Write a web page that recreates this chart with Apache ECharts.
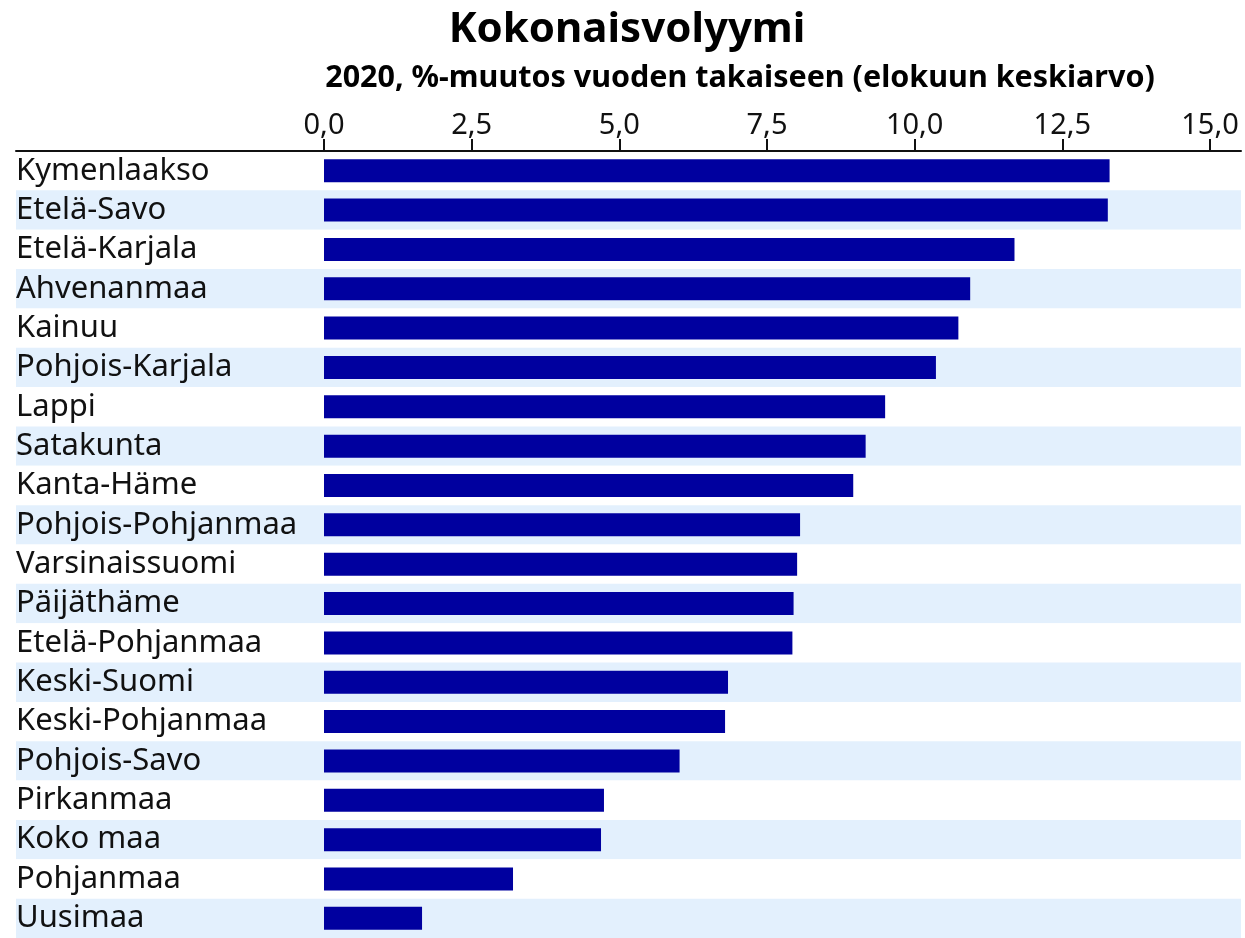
<!DOCTYPE html>
<html>
<head>
<meta charset="utf-8">
<script src="https://cdn.jsdelivr.net/npm/echarts@6/dist/echarts.min.js"></script>
<style>
  html, body { margin: 0; padding: 0; background: #fff; }
  #chart { width: 1245px; height: 938px; }
</style>
</head>
<body>
<div id="chart"></div>
<script>
var regions = [
  "Kymenlaakso", "Etelä-Savo", "Etelä-Karjala", "Ahvenanmaa", "Kainuu",
  "Pohjois-Karjala", "Lappi", "Satakunta", "Kanta-Häme", "Pohjois-Pohjanmaa",
  "Varsinaissuomi", "Päijäthäme", "Etelä-Pohjanmaa", "Keski-Suomi",
  "Keski-Pohjanmaa", "Pohjois-Savo", "Pirkanmaa", "Koko maa", "Pohjanmaa", "Uusimaa"
];
var changes = [
  13.30, 13.27, 11.69, 10.94, 10.74,
  10.36, 9.50, 9.17, 8.96, 8.06,
  8.01, 7.95, 7.93, 6.84,
  6.79, 6.02, 4.74, 4.69, 3.20, 1.66
];
var titleText = "Kokonaisvolyymi";
var subtitleText = "2020, %-muutos vuoden takaiseen (elokuun keskiarvo)";

var font = '"Noto Sans", sans-serif';

var myChart = echarts.init(document.getElementById("chart"));
myChart.setOption({
  animation: false,
  graphic: [
    {
      type: "text",
      x: 627, y: 30,
      style: {
        text: titleText,
        textAlign: "center",
        textVerticalAlign: "middle",
        font: 'bold 42px "Noto Sans"',
        fill: "#000"
      }
    },
    {
      type: "text",
      x: 740, y: 78,
      style: {
        text: subtitleText,
        textAlign: "center",
        textVerticalAlign: "middle",
        font: 'bold 30.5px "Noto Sans"',
        fill: "#000"
      }
    }
  ],
  grid: [
    // background bands + long axis line
    { left: 16, right: 4, top: 151, bottom: -3 },
    // bars
    { left: 324, right: 35, top: 151, bottom: -3 }
  ],
  xAxis: [
    {
      gridIndex: 0,
      type: "value",
      position: "top",
      min: 0,
      max: 1,
      axisLine: { show: true, lineStyle: { color: "#111", width: 2 } },
      axisTick: { show: false },
      axisLabel: { show: false },
      splitLine: { show: false }
    },
    {
      gridIndex: 1,
      type: "value",
      position: "top",
      min: 0,
      max: 15,
      interval: 2.5,
      axisLine: { show: false },
      axisTick: { show: true, length: 12, lineStyle: { color: "#111", width: 2 } },
      axisLabel: {
        color: "#111",
        fontFamily: font,
        fontSize: 29,
        margin: 11,
        formatter: function (v) { return v.toFixed(1).replace(".", ","); }
      },
      splitLine: { show: false }
    }
  ],
  yAxis: [
    {
      gridIndex: 0,
      type: "category",
      data: regions,
      inverse: true,
      axisLine: { show: false },
      axisTick: { show: false },
      axisLabel: { show: false },
      splitArea: { show: true, interval: 0, areaStyle: { color: ["#ffffff", "#e3f0fd"] } }
    },
    {
      gridIndex: 1,
      type: "category",
      data: regions,
      inverse: true,
      axisLine: { show: false },
      axisTick: { show: false },
      axisLabel: {
        interval: 0,
        hideOverlap: false,
        color: "#111",
        fontFamily: font,
        fontSize: 31,
        align: "left",
        padding: [4, 0, 0, 0],
        margin: 308
      }
    }
  ],
  series: [
    {
      type: "bar",
      xAxisIndex: 1,
      yAxisIndex: 1,
      data: changes,
      barWidth: 23,
      itemStyle: { color: "#00009f" }
    }
  ]
});
window.onresize = function () { myChart.resize(); };
</script>
</body>
</html>
